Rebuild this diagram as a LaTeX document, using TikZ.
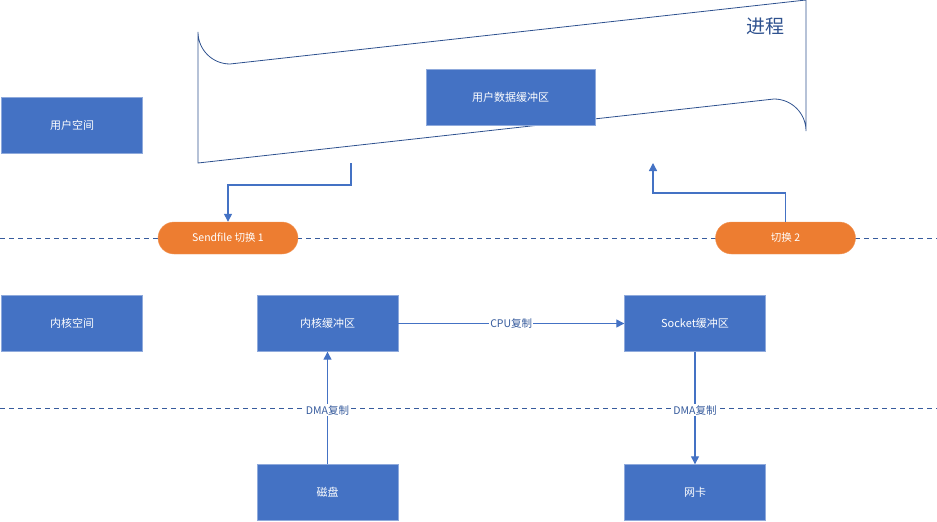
\documentclass[tikz,border=0pt]{standalone}
\usepackage{fontspec}
\setmainfont{Noto Sans CJK SC}
\usetikzlibrary{arrows.meta,positioning}
\definecolor{boxblue}{HTML}{4472C4}
\definecolor{lineblue}{HTML}{4472C4}
\definecolor{procline}{HTML}{2F528F}
\definecolor{swor}{HTML}{ED7D31}
\tikzset{
    buf/.style={draw=boxblue!60!white, fill=boxblue, text=white, minimum width=141pt, minimum height=56pt, inner sep=0pt, font=\fontsize{11}{13}\selectfont},
    sw/.style={draw=swor!80!white, fill=swor, text=white, rounded corners=16pt, minimum width=140pt, minimum height=32pt, inner sep=0pt, font=\fontsize{10.5}{12}\selectfont},
    flow/.style={draw=lineblue, line width=1.3pt, -{Triangle[length=8pt,width=8pt]}},
    lbl/.style={fill=white, text=lineblue!80!black, inner sep=1pt, font=\fontsize{10.5}{12}\selectfont},
    split/.style={draw=lineblue!80!black, dashed, dash pattern=on 5pt off 4pt, line width=1pt}
}
\begin{document}
\begin{tikzpicture}[x=1pt, y=-1pt]
    \useasboundingbox (0,0) rectangle (937,522);
    % Process frame
    \draw [procline, line width=0.8pt]
        (198,163) -- (198,32) arc (180:90:32) -- (806,0) -- (806,131)
        arc (0:-90:32) -- cycle;
    \node [text=procline, font=\fontsize{19}{22}\selectfont] (proc) at (765,26) {进程};
    \coordinate (pbl) at (351,163);
    \coordinate (pbr) at (653,163);

    % Separators
    \draw [split] (0,238) -- (937,238);
    \draw [split] (0,408) -- (937,408);

    % Buffers
    \node [buf, minimum width=169pt] (ubuf) at (510.5,97.5) {用户数据缓冲区};
    \node [buf] (uspace) at (72,125.5) {用户空间};
    \node [buf] (kspace) at (72,323.5) {内核空间};
    \node [buf] (kbuf)   at (327.5,323.5) {内核缓冲区};
    \node [buf] (sbuf)   at (695,323.5) {Socket缓冲区};
    \node [buf] (disk)   at (327.5,492.5) {磁盘};
    \node [buf] (nic)    at (695,492.5) {网卡};

    % Switches
    \node [sw] (sw1) at (228,238) {Sendfile 切换 1};
    \node [sw] (sw2) at (785.5,238) {切换 2};

    % Paths
    \draw [flow] (pbl) |- (228,185) -- (sw1.north);
    \draw [flow] (sw2.north) |- (653,193) -- (pbr);
    \draw [flow] (kbuf) -- node [lbl] {CPU复制} (sbuf);
    \draw [flow] (disk) -- node [lbl, pos=0.48] {DMA复制} (kbuf);
    \draw [flow] (sbuf) -- node [lbl, pos=0.52] {DMA复制} (nic);
\end{tikzpicture}
\end{document}
